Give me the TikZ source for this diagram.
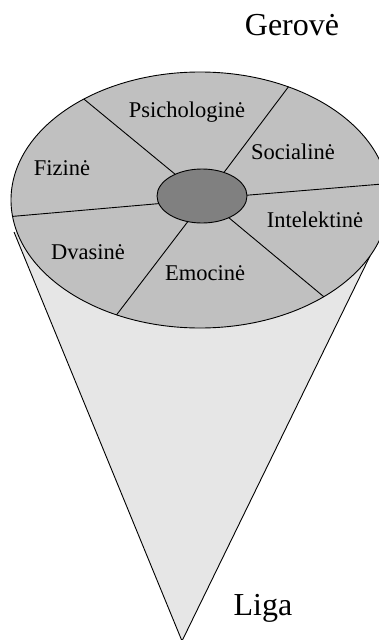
\documentclass[tikz,border=0pt]{standalone}
\usepackage{fontspec}
\setmainfont{Liberation Serif}
\usetikzlibrary{shapes.geometric}
\definecolor{disc}{HTML}{C0C0C0}
\definecolor{core}{HTML}{808080}
\definecolor{conefill}{HTML}{E6E6E6}
\tikzset{
  edge/.style={draw=black, line width=0.9pt},
  seg/.style={font=\fontsize{22.5}{26}\selectfont, inner sep=0pt},
  big/.style={font=\fontsize{32}{36}\selectfont, inner sep=0pt},
}
\begin{document}
\begin{tikzpicture}[x=1pt,y=-1pt]
\useasboundingbox (0,0) rectangle (379,640);
% cone
\coordinate (cl) at (14,232);
\coordinate (cr) at (370,256);
\coordinate (tip) at (182,641);
\fill[conefill] (cl) -- (tip) -- (cr) -- cycle;
\draw[edge] (cl) -- (tip) -- (cr);
% disc
\node[ellipse, edge, fill=disc, minimum width=378pt, minimum height=256pt, inner sep=0pt, outer sep=0pt] (out) at (200,200) {};
\node[ellipse, edge, fill=core, minimum width=90pt, minimum height=54pt, inner sep=0pt, outer sep=0pt] (in) at (202,196) {};
% spokes
\draw[edge] (in.141.6) -- (out.139);
\draw[edge] (in.47.5) -- (out.52);
\draw[edge] (in.1) -- (out.5.7);
\draw[edge] (in.-39) -- (out.-38);
\draw[edge] (in.241) -- (out.234);
\draw[edge] (in.190) -- (out.185.5);
% labels
\node[seg] (psi) at (187,112) {Psichologinė};
\node[seg] (soc) at (293,152) {Socialinė};
\node[seg] (fiz) at (62,168) {Fizinė};
\node[seg] (int) at (315,220) {Intelektinė};
\node[seg] (dva) at (88,252) {Dvasinė};
\node[seg] (emo) at (205,273) {Emocinė};
\node[big] (ger) at (292,25) {Gerovė};
\node[big] (lig) at (263,608) {Liga};
\end{tikzpicture}
\end{document}
